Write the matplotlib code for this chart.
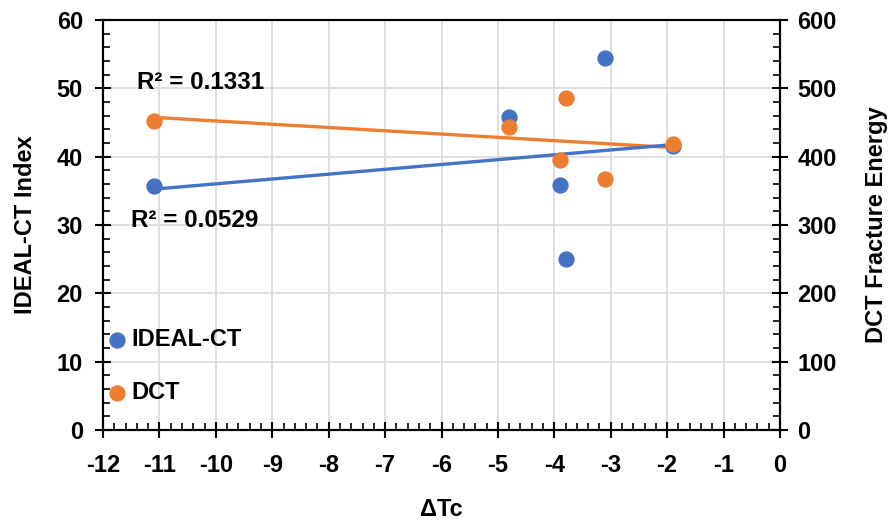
import matplotlib.pyplot as plt
from matplotlib.ticker import MultipleLocator
import numpy as np

delta_tc = [-11.1, -4.8, -3.9, -3.8, -3.1, -1.9]
ideal_ct = [35.7, 45.8, 35.9, 25.1, 54.4, 41.5]

dct_tc = [-11.1, -4.8, -3.9, -3.8, -3.1, -1.9]
dct_energy = [452, 444, 395, 486, 368, 418]

r2_ideal = "R² = 0.0529"
r2_dct = "R² = 0.1331"

blue = '#4472c4'
orange = '#ed7d31'

plt.rcParams['font.family'] = ['Liberation Sans', 'DejaVu Sans']
plt.rcParams['font.weight'] = 'bold'
plt.rcParams['axes.unicode_minus'] = False

fig = plt.figure(figsize=(8.96, 5.27), dpi=100)
ax = fig.add_axes([0.115, 0.184, 0.7555, 0.778])
ax2 = ax.twinx()

# linear trend lines over the data range
def trend(x, y):
    k, b = np.polyfit(x, y, 1)
    xs = np.array([min(x), max(x)])
    return xs, k * xs + b

ax.scatter(delta_tc, ideal_ct, s=115, color=blue, zorder=3, label='IDEAL-CT')
ax2.scatter(dct_tc, dct_energy, s=115, color=orange, zorder=3, label='DCT')
xs, ys = trend(dct_tc, dct_energy)
ax2.plot(xs, ys, color=orange, lw=2.4, zorder=2)
xs, ys = trend(delta_tc, ideal_ct)
ax2.plot(xs, ys * 10, color=blue, lw=2.4, zorder=2)

ax.set_xlim(-12, 0)
ax.set_ylim(0, 60)
ax2.set_ylim(0, 600)

ax.xaxis.set_major_locator(MultipleLocator(1))
ax.xaxis.set_minor_locator(MultipleLocator(0.2))
ax.yaxis.set_major_locator(MultipleLocator(10))
ax.yaxis.set_minor_locator(MultipleLocator(2))
ax2.yaxis.set_major_locator(MultipleLocator(100))
ax2.yaxis.set_minor_locator(MultipleLocator(20))

ax.grid(which='major', color='#d9d9d9', lw=1.2)
ax.set_axisbelow(True)

for a in (ax, ax2):
    a.tick_params(which='major', direction='inout', length=11, width=1.5,
                  labelsize=17)
    a.tick_params(which='minor', direction='in', length=5, width=1.2)
    for s in a.spines.values():
        s.set_linewidth(1.5)
        s.set_color('black')
ax.tick_params(axis='x', which='major', pad=12)
ax.tick_params(axis='y', which='major', pad=9)
ax2.tick_params(axis='y', which='major', pad=7)
ax.spines['top'].set_color('#404040')

ax.set_xlabel('ΔTc', fontsize=17, fontweight='bold', labelpad=15)
ax.set_ylabel('IDEAL-CT Index', fontsize=17, fontweight='bold', labelpad=14)
ax2.set_ylabel('DCT Fracture Energy', fontsize=17, fontweight='bold', labelpad=20)

ax.text(-11.4, 50.8, r2_dct, fontsize=17.5, fontweight='bold', va='center', ha='left')
ax.text(-11.5, 30.6, r2_ideal, fontsize=17.5, fontweight='bold', va='center', ha='left')

h1, l1 = ax.get_legend_handles_labels()
h2, l2 = ax2.get_legend_handles_labels()
ax2.legend(h1 + h2, l1 + l2, loc='lower left', bbox_to_anchor=(-0.024, 0.022),
           frameon=False, fontsize=17, handletextpad=0.0, labelspacing=1.3,
           borderaxespad=0.3, scatterpoints=1, handlelength=1.2)

plt.savefig('out.png', dpi=100)
